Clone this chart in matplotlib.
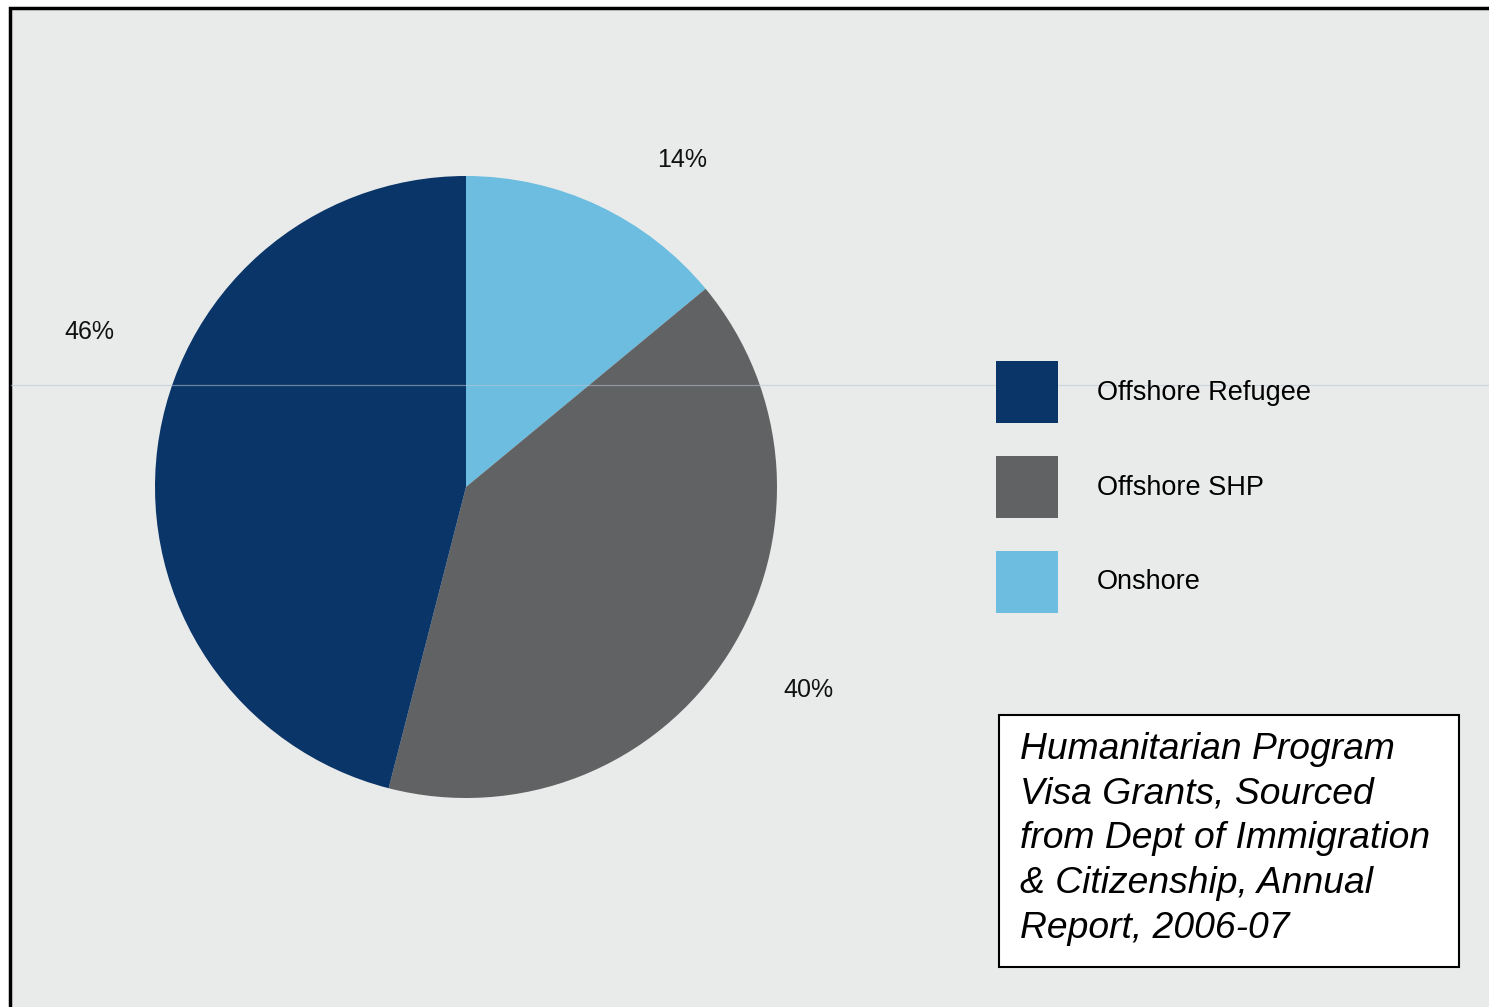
import numpy as np
import matplotlib.pyplot as plt
from matplotlib.patches import Rectangle, Patch

# ============================================================
# DATA
# ============================================================
categories = ['Offshore Refugee', 'Offshore SHP', 'Onshore']
shares     = [46, 40, 14]
colors     = ['#0a3568', '#606264', '#6cbde0']
caption    = ("Humanitarian Program\nVisa Grants, Sourced\n"
              "from Dept of Immigration\n& Citizenship, Annual\nReport, 2006-07")

# label placement (angle in degrees, radius in pie units), one per slice
label_angle  = [157.6, -30.6, 56.5]
label_radius = [1.31, 1.28, 1.26]

W, H = 1489, 1007
fig = plt.figure(figsize=(W / 100, H / 100), dpi=100)
fig.patch.set_facecolor('white')

# grey panel with black frame (runs off the right / bottom edge)
fig.patches.append(Rectangle((10 / W, -0.05), 1.0, 0.05 + (H - 8) / H,
                             transform=fig.transFigure, facecolor='#e9ebea',
                             edgecolor='black', linewidth=2.5, zorder=0))
# faint horizontal rule across the panel (also shows over the pie)
fig.add_artist(plt.Line2D([11 / W, 1], [1 - 385 / H, 1 - 385 / H],
                          transform=fig.transFigure, color='#b8c4d0',
                          alpha=0.55, linewidth=0.9, zorder=2.5))

# ============================================================
# PIE
# ============================================================
cx, cy, r = 466, 487, 311
ax = fig.add_axes([(cx - r) / W, (H - cy - r) / H, 2 * r / W, 2 * r / H])
ax.set_zorder(2)
ax.set_facecolor('none')
# order: Onshore first from 12 o'clock clockwise, then SHP, then Refugee
order = [2, 1, 0]
wedges, texts, autotexts = ax.pie([shares[i] for i in order],
                                  colors=[colors[i] for i in order],
                                  startangle=90, counterclock=False,
                                  autopct='%d%%', pctdistance=1.3,
                                  textprops=dict(fontsize=18, family='Liberation Sans',
                                                 color='#111111'),
                                  wedgeprops=dict(linewidth=0))
for t, i in zip(autotexts, order):
    a = np.deg2rad(label_angle[i])
    t.set_position((label_radius[i] * np.cos(a), label_radius[i] * np.sin(a)))
ax.set_xlim(-1, 1)
ax.set_ylim(-1, 1)
ax.set_aspect('auto')
ax.axis('off')

# ============================================================
# LEGEND
# ============================================================
handles = [Patch(facecolor=c, edgecolor='none') for c in colors]
leg = fig.legend(handles, categories, loc='upper left',
                 bbox_to_anchor=(996 / W, 1 - 361 / H), frameon=False,
                 prop=dict(family='Liberation Sans', size=19.5),
                 handlelength=2.29, handleheight=3.16, labelspacing=1.2,
                 handletextpad=1.44, borderpad=0, borderaxespad=0)
leg.set_zorder(3)

# ============================================================
# CAPTION BOX
# ============================================================
fig.patches.append(Rectangle((999 / W, 1 - 967 / H), 460 / W, 252 / H,
                             transform=fig.transFigure, facecolor='white',
                             edgecolor='black', linewidth=1.5, zorder=2))
fig.text(1020 / W, 1 - 732 / H, caption, ha='left', va='top',
         fontsize=26.8, style='italic', family='Liberation Sans',
         linespacing=1.36, zorder=3)

plt.savefig('out.png', dpi=100)
